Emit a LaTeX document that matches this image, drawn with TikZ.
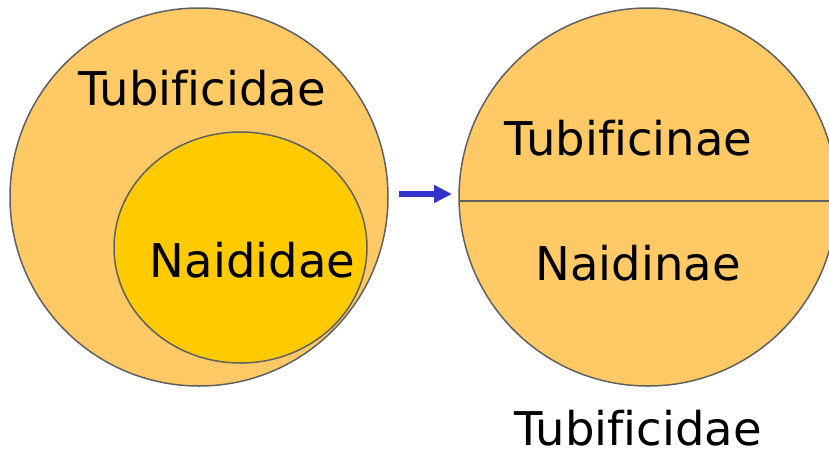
\documentclass[tikz,border=0pt]{standalone}
\usepackage{fontspec}
\setmainfont[Ligatures=NoCommon]{DejaVu Sans}
\usetikzlibrary{arrows.meta,shapes.geometric}
\definecolor{outerfill}{HTML}{FFCA66}
\definecolor{innerfill}{HTML}{FFCA00}
\definecolor{rim}{HTML}{606060}
\definecolor{arrowblue}{HTML}{3333CC}
\begin{document}
\begin{tikzpicture}[x=1pt,y=-1pt,
  setbox/.style={draw=rim,line width=1.5pt,inner sep=0pt},
  bigset/.style={setbox,circle,fill=outerfill,minimum size=378pt},
  subset/.style={setbox,ellipse,fill=innerfill,minimum width=253pt,minimum height=231pt},
  label/.style={font=\fontsize{46.5}{50}\selectfont,anchor=base,inner sep=0pt},
  flow/.style={draw=arrowblue,line width=6pt,-{Triangle[length=18pt,width=17pt]}}]
\useasboundingbox (0,0) rectangle (829,451);
\clip (0,0) rectangle (829,451);
% family before the split
\node[bigset] (fam) at (199,197) {};
\node[subset] (naid) at (240.5,247.5) {};
\node[label] (tubL) at (202,105) {Tubificidae};
\node[label] (naidL) at (252.5,277) {Naididae};
% family after the split
\node[bigset] (famR) at (648,197) {};
\begin{scope}
  \clip (648,197) circle (189pt);
  \coordinate (cutW) at (440,201);
  \coordinate (cutE) at (860,201);
  \draw[rim,line width=1.5pt] (cutW) -- (cutE);
\end{scope}
\node[label] (tubinae) at (628.5,155) {Tubificinae};
\node[label] (naidinae) at (638,280) {Naidinae};
\node[label] (tubR) at (638,445) {Tubificidae};
% arrow between the two
\coordinate (a0) at (399,194);
\coordinate (a1) at (452,194);
\draw[flow] (a0) -- (a1);
\end{tikzpicture}
\end{document}
